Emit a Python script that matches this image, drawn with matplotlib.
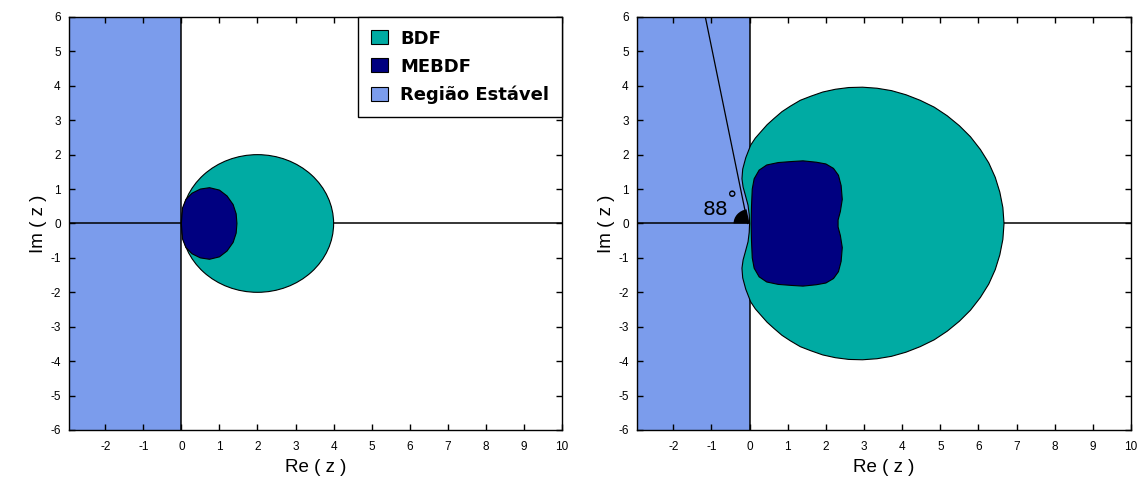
import matplotlib
matplotlib.use("Agg")
import matplotlib.pyplot as plt
from matplotlib.patches import Polygon, Circle, Wedge, Patch

plt.rcParams['font.family'] = ['Liberation Sans', 'DejaVu Sans']
plt.rcParams['axes.unicode_minus'] = False

# colours
c_stable = '#7b9cec'
c_bdf = '#00aba3'
c_mebdf = '#000080'

# axis setup
x_lim = (-2.95, 10)
y_lim = (-6, 6)
x_ticks = list(range(-2, 11))
y_ticks = list(range(-6, 7))
legend_labels = ['BDF', 'MEBDF', 'Região Estável']

bdf2_center = (2.0, 0.0)
bdf2_radius = 2.0
mebdf_l_x = [0.0, 0.03, 0.12, 0.28, 0.50, 0.74, 1.00, 1.20, 1.36, 1.44, 1.46]
mebdf_l_y = [0.0, 0.45, 0.70, 0.88, 1.00, 1.04, 0.97, 0.80, 0.55, 0.28, 0.0]

bdf_r_x = [0.0, -0.01, -0.04, -0.12, -0.17, -0.20, -0.18, -0.10, 0.03, 0.15, 0.30,
           0.46, 0.64, 0.85, 1.07, 1.33, 1.61, 1.92, 2.25, 2.60, 2.96, 3.34, 3.72,
           4.10, 4.47, 4.84, 5.18, 5.50, 5.79, 6.05, 6.27, 6.44, 6.56, 6.64, 6.67]
bdf_r_y = [0.0, 0.26, 0.53, 0.86, 1.06, 1.30, 1.58, 1.91, 2.28, 2.48, 2.67,
           2.87, 3.05, 3.25, 3.41, 3.58, 3.70, 3.82, 3.90, 3.95, 3.96, 3.93, 3.86,
           3.74, 3.58, 3.38, 3.13, 2.84, 2.52, 2.15, 1.76, 1.34, 0.91, 0.46, 0.0]

mebdf_r_x = [0.04, 0.05, 0.07, 0.12, 0.25, 0.45, 0.75, 1.10, 1.40, 1.75, 2.00,
             2.20, 2.33, 2.40, 2.43, 2.38, 2.32, 2.32]
mebdf_r_y = [0.0, 0.50, 1.00, 1.30, 1.55, 1.70, 1.77, 1.80, 1.82, 1.78, 1.73,
             1.60, 1.40, 1.10, 0.70, 0.35, 0.10, 0.0]

# angle annotation
ray_x = [-0.05, -1.16]
ray_y = [0.0, 6.0]
angle_text = '88'


def closed(xs, ys):
    # upper half + mirrored lower half
    pts = list(zip(xs, ys))
    pts += [(x, -y) for x, y in zip(xs[::-1], ys[::-1])]
    return pts


def base_axes(fig, rect):
    ax = fig.add_axes(rect)
    ax.set_xlim(*x_lim)
    ax.set_ylim(*y_lim)
    ax.set_xticks(x_ticks)
    ax.set_yticks(y_ticks)
    ax.tick_params(direction='in', top=True, right=True, length=4, width=1,
                   labelsize=8.5)
    ax.tick_params(axis='x', pad=8)
    ax.tick_params(axis='y', pad=6)
    for s in ax.spines.values():
        s.set_linewidth(1.0)
    ax.axvspan(x_lim[0] - 1, 0, color=c_stable, zorder=1, lw=0)
    ax.axvline(0, color='black', lw=1.1, zorder=2)
    ax.axhline(0, color='black', lw=1.1, zorder=2)
    ax.set_xlabel('Re ( z )', fontsize=13.5, labelpad=4)
    ax.set_ylabel('Im ( z )', fontsize=13.5, labelpad=2)
    return ax


fig = plt.figure(figsize=(11.47, 4.88), dpi=100)

ax1 = base_axes(fig, [0.0602, 0.1189, 0.4298, 0.8463])
ax1.add_patch(Circle(bdf2_center, bdf2_radius, facecolor=c_bdf,
                     edgecolor='black', lw=0.8, zorder=3))
ax1.add_patch(Polygon(closed(mebdf_l_x, mebdf_l_y), closed=True,
                      facecolor=c_mebdf, edgecolor='black', lw=0.8, zorder=4))

handles = [Patch(facecolor=c, edgecolor='black', lw=0.8)
           for c in (c_bdf, c_mebdf, c_stable)]
leg = ax1.legend(handles, legend_labels, loc='upper right', borderaxespad=0,
                 fancybox=False, framealpha=1, edgecolor='black',
                 prop={'family': 'DejaVu Sans', 'weight': 'bold', 'size': 13},
                 handlelength=0.94, handleheight=0.83, handletextpad=0.7,
                 labelspacing=0.55, borderpad=0.7)
leg.get_frame().set_linewidth(1.0)
leg.set_zorder(10)

ax2 = base_axes(fig, [0.5554, 0.1189, 0.4307, 0.8463])
ax2.add_patch(Polygon(closed(bdf_r_x, bdf_r_y), closed=True,
                      facecolor=c_bdf, edgecolor='black', lw=0.8, zorder=3))
ax2.add_patch(Polygon(closed(mebdf_r_x, mebdf_r_y), closed=True,
                      facecolor=c_mebdf, edgecolor='black', lw=0.8, zorder=4))
ax2.plot(ray_x, ray_y, color='black', lw=0.9, zorder=5)
ax2.add_patch(Wedge((0, 0), 0.42, 101, 180, facecolor='black', lw=0, zorder=5))
ax2.text(-1.24, 0.24, angle_text, fontsize=14.5, family='DejaVu Sans',
         ha='left', va='baseline', zorder=6)
ax2.text(-0.6, 0.5, '°', fontsize=15, family='DejaVu Sans',
         ha='left', va='baseline', zorder=6)

fig.savefig('out.png', dpi=100, facecolor='white')
